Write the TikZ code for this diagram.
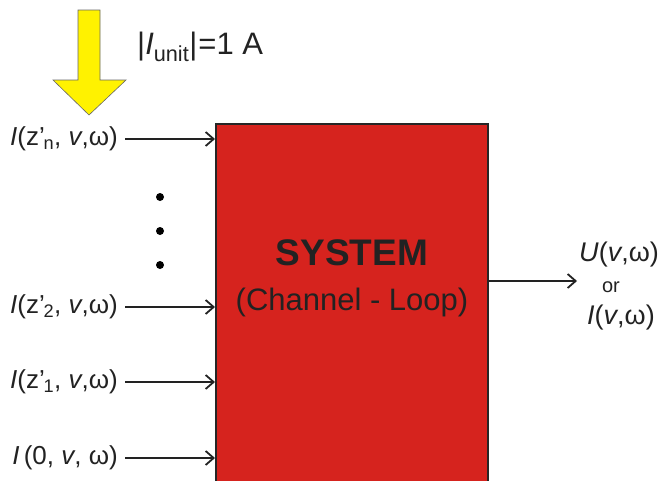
\documentclass[tikz,border=0pt]{standalone}
\usepackage{fontspec}
\setmainfont{Liberation Sans}
\usetikzlibrary{arrows.meta}
\definecolor{boxred}{HTML}{D6231E}
\definecolor{ink}{HTML}{222222}
\definecolor{yel}{HTML}{FFF200}
\tikzset{
  lbl/.style={font=\fontsize{26}{28}\selectfont, text=ink, inner sep=0pt},
  inarrow/.style={draw=ink, line width=1.8pt, -{Straight Barb[length=8pt,width=14pt,line width=1.8pt]}},
  sysbox/.style={draw=black!85, line width=2pt, fill=boxred, minimum width=272pt, minimum height=367pt, inner sep=0pt},
  dot/.style={circle, fill=black, minimum size=8pt, inner sep=0pt}
}
\newcommand{\zp}[1]{z’\kern-0.05em\textsubscript{#1}}
\begin{document}
\begin{tikzpicture}[x=1pt,y=-1pt]
\useasboundingbox (0,0) rectangle (660,480);
\clip (0,0) rectangle (660,480);
% system box
\node[sysbox, anchor=north west] (sys) at (215,123) {};
\node[inner sep=0pt, text=ink, font=\fontsize{37}{40}\selectfont\bfseries] (systxt) at (352,253) {SYSTEM};
\node[inner sep=0pt, text=ink, font=\fontsize{31}{33}\selectfont] (chtxt) at (352,302) {(Channel - Loop)};
% yellow arrow
\draw[draw=black!60, line width=0.6pt, fill=yel]
  (78,10) -- (100,10) -- (100,80) -- (126,80) -- (89,115) -- (53,80) -- (78,80) -- cycle;
\node[lbl, font=\fontsize{31}{33}\selectfont, anchor=west] (iunit) at (137,47) {|\textit{I}\textsubscript{unit}|\kern1pt=1 A};
% input labels
\node[lbl, anchor=east] (in) at (118,139) {\textit{I}(\zp{n}, \textit{v},ω)};
\node[lbl, anchor=east] (i2) at (118,307) {\textit{I}(\zp{2}, \textit{v},ω)};
\node[lbl, anchor=east] (i1) at (118,382) {\textit{I}(\zp{1}, \textit{v},ω)};
\node[lbl, anchor=east] (i0) at (118,458) {\textit{I}\,(0, \textit{v}, ω)};
\foreach \n in {in,i2,i1,i0}{
  \draw[inarrow] ([xshift=7pt]\n.east) -- (sys.west |- \n.east);
}
% dots
\node[dot] (d1) at (160,197) {};
\node[dot] (d2) at (160,231) {};
\node[dot] (d3) at (160,265) {};
% output
\coordinate (outend) at (577,281);
\draw[inarrow] (sys.east |- outend) -- (outend);
\node[lbl, font=\fontsize{27}{29}\selectfont] (u) at (619,255) {\textit{U}(\textit{v},ω)};
\node[lbl, font=\fontsize{20}{22}\selectfont] (or) at (611,287) {or};
\node[lbl, font=\fontsize{27}{29}\selectfont] (iv) at (621,318) {\textit{I}(\textit{v},ω)};
\end{tikzpicture}
\end{document}
